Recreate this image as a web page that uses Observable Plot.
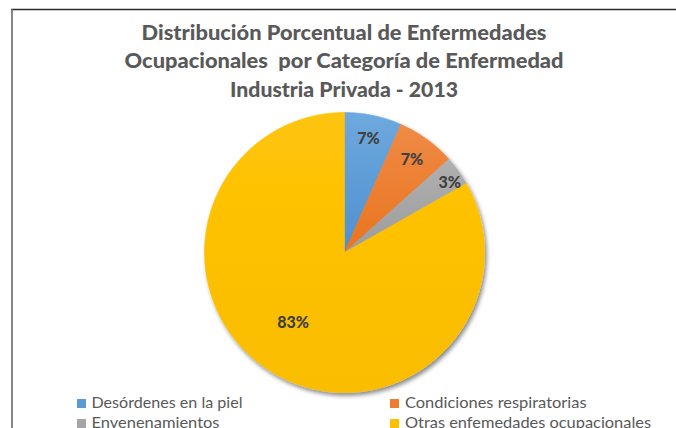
<!DOCTYPE html>
<html>
<head>
<meta charset="utf-8">
<script src="https://cdn.jsdelivr.net/npm/d3@7"></script>
<script src="https://cdn.jsdelivr.net/npm/@observablehq/plot@0.6"></script>
<style>
  html, body { margin: 0; padding: 0; background: #fff; }
  #wrap { position: relative; width: 676px; height: 428px; overflow: hidden; background: #fff; }
  #wrap > svg { position: absolute; left: 0; top: 0; }
  #overlay { pointer-events: none; }
</style>
</head>
<body>
<div id="wrap"></div>
<script>
// ---- data ----
const categories = ["Desórdenes en la piel", "Condiciones respiratorias", "Envenenamientos", "Otras enfemedades ocupacionales"];
const percentages = [6.6, 6.8, 3.4, 83.2];
const percentLabels = ["7%", "7%", "3%", "83%"];
const titleLines = ["Distribución Porcentual de Enfermedades", "Ocupacionales\u00A0 por Categoría de Enfermedad", "Industria Privada - 2013"];

// ---- styles / layout ----
const baseColors = ["#5B9BD5", "#ED7D31", "#A5A5A5", "#FFC000"];
const topColors = ["#6EA9DE", "#F08A45", "#B0B0B0", "#FFC408"];
const bottomColors = ["#4F8FCF", "#E8741F", "#9C9C9C", "#FBBD00"];
const labelRadius = [0.83, 0.82, 0.9, 0.62];
const labelAngleShift = [0, 0, 2.3, 6];
const W = 676, H = 428;
const cx = 344, cy = 252, R = 140;
const font = "Lato, 'Open Sans', sans-serif";

// ---- geometry from data ----
const arcs = d3.pie().sort(null).value(d => d)(percentages);
const slicePoints = [];
arcs.forEach((a, i) => {
  slicePoints.push({cat: categories[i], x: 0, y: 0});
  const steps = Math.max(2, Math.ceil((a.endAngle - a.startAngle) / (Math.PI / 360)));
  for (let k = 0; k <= steps; k++) {
    const t = a.startAngle + (a.endAngle - a.startAngle) * k / steps;
    slicePoints.push({cat: categories[i], x: Math.sin(t), y: Math.cos(t)});
  }
  slicePoints.push({cat: categories[i], x: 0, y: 0});
});
const labelData = arcs.map((a, i) => {
  const m = (a.startAngle + a.endAngle) / 2 + labelAngleShift[i] * Math.PI / 180;
  return {text: percentLabels[i], x: labelRadius[i] * Math.sin(m), y: labelRadius[i] * Math.cos(m)};
});

const chart = Plot.plot({
  width: W,
  height: H,
  marginLeft: cx - R,
  marginRight: W - (cx + R),
  marginTop: cy - R,
  marginBottom: H - (cy + R),
  x: {domain: [-1, 1], axis: null},
  y: {domain: [-1, 1], axis: null},
  color: {domain: categories, range: categories.map((c, i) => `url(#grad${i})`)},
  style: {fontFamily: font, background: "transparent", overflow: "visible"},
  marks: [
    Plot.line(slicePoints, {x: "x", y: "y", z: "cat", fill: "cat", stroke: "cat", strokeWidth: 0.6, curve: "linear"}),
    Plot.text(labelData, {x: "x", y: "y", text: "text", fontSize: 16, fontWeight: 900, fill: "#404040", fontFamily: font})
  ]
});

const svg = d3.select(chart);
const defs = svg.insert("defs", ":first-child");
categories.forEach((c, i) => {
  const g = defs.append("linearGradient").attr("id", `grad${i}`).attr("x1", 0).attr("y1", 0).attr("x2", 0).attr("y2", 1);
  g.append("stop").attr("offset", "0%").attr("stop-color", topColors[i]);
  g.append("stop").attr("offset", "100%").attr("stop-color", bottomColors[i]);
});
const f = defs.append("filter").attr("id", "pieShadow").attr("x", "-10%").attr("y", "-10%").attr("width", "125%").attr("height", "125%");
f.append("feDropShadow").attr("dx", 2).attr("dy", 3).attr("stdDeviation", 2.2).attr("flood-color", "#000").attr("flood-opacity", 0.45);
svg.select('g[aria-label="line"]').attr("filter", "url(#pieShadow)");

const wrap = document.getElementById("wrap");
wrap.appendChild(chart);

// ---- overlay: frame, title, legend ----
const ov = d3.select(wrap).append("svg").attr("id", "overlay").attr("width", W).attr("height", H);
ov.append("line").attr("x1", 11).attr("x2", W).attr("y1", 9.5).attr("y2", 9.5).attr("stroke", "#2a2a2a").attr("stroke-width", 1.6);
ov.append("line").attr("x1", 12).attr("x2", 12).attr("y1", 9).attr("y2", H).attr("stroke", "#6a6a6a").attr("stroke-width", 1.6);

const titleBaselines = [39.5, 67.5, 96.5];
const titleWidths = [405, 439, 228];
titleLines.forEach((t, i) => {
  ov.append("text")
    .attr("x", 344).attr("y", titleBaselines[i])
    .attr("text-anchor", "middle")
    .attr("font-family", font).attr("font-weight", 900).attr("font-size", 21)
    .attr("fill", "#595959")
    .attr("textLength", titleWidths[i]).attr("lengthAdjust", "spacingAndGlyphs")
    .text(t);
});

const legendSwatchX = [77, 390, 77, 390];
const legendTextX = [91.5, 405, 91.5, 405];
const legendBase = [408, 408, 428, 428];
const legendWidths = [151, 181.5, 128, 246];
categories.forEach((c, i) => {
  ov.append("rect").attr("x", legendSwatchX[i]).attr("y", legendBase[i] - 9).attr("width", 9).attr("height", 9).attr("fill", baseColors[i]);
  ov.append("text")
    .attr("x", legendTextX[i]).attr("y", legendBase[i])
    .attr("font-family", font).attr("font-size", 15)
    .attr("fill", "#595959")
    .attr("textLength", legendWidths[i]).attr("lengthAdjust", "spacingAndGlyphs")
    .text(c);
});
</script>
</body>
</html>
